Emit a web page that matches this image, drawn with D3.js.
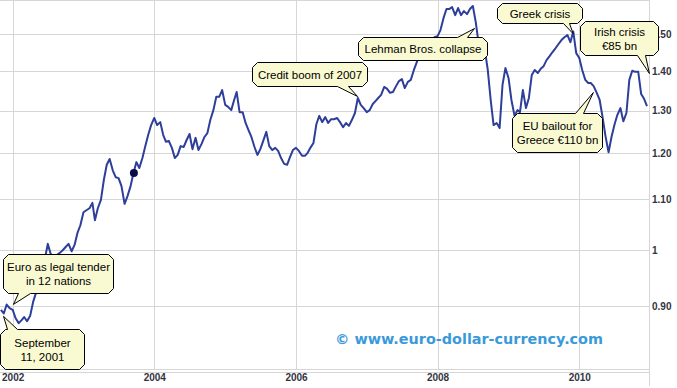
<!DOCTYPE html>
<html lang="en">
<head>
<meta charset="UTF-8">
<title>Euro - Dollar 2001-2010</title>
<script src="https://cdn.jsdelivr.net/npm/d3@7"></script>
<style>
    html, body { margin: 0; padding: 0; background: #fff; }
    svg { display: block; }
</style>
</head>
<body>
<script>
    // semi-monthly EUR/USD closes (1st and 16th of every month)
    const rates2001 = [0.894, 0.888, 0.903, 0.897];   // Nov - Dec
    const rates2002 = [0.894, 0.880, 0.872, 0.877, 0.882, 0.875, 0.884, 0.907, 0.923, 0.941, 0.961, 0.984,
                       1.012, 0.993, 0.989, 0.991, 0.995, 1.000, 1.006, 1.012, 0.998, 1.010, 1.033, 1.048];
    const rates2003 = [1.074, 1.078, 1.082, 1.093, 1.058, 1.082, 1.099, 1.141, 1.174, 1.187, 1.162, 1.147,
                       1.145, 1.128, 1.091, 1.107, 1.128, 1.156, 1.180, 1.167, 1.189, 1.216, 1.242, 1.265];
    const rates2004 = [1.282, 1.265, 1.272, 1.242, 1.226, 1.228, 1.212, 1.189, 1.196, 1.216, 1.214, 1.230,
                       1.244, 1.209, 1.235, 1.207, 1.221, 1.237, 1.246, 1.277, 1.301, 1.334, 1.334, 1.351];
    const rates2005 = [1.314, 1.309, 1.301, 1.326, 1.346, 1.296, 1.296, 1.270, 1.253, 1.237, 1.214, 1.196,
                       1.209, 1.228, 1.249, 1.216, 1.207, 1.212, 1.205, 1.189, 1.176, 1.174, 1.191, 1.207];
    const rates2006 = [1.212, 1.205, 1.194, 1.194, 1.200, 1.212, 1.223, 1.267, 1.287, 1.272, 1.284, 1.270,
                       1.279, 1.279, 1.282, 1.272, 1.260, 1.270, 1.263, 1.277, 1.294, 1.331, 1.314, 1.306];
    const rates2007 = [1.296, 1.301, 1.316, 1.324, 1.331, 1.339, 1.359, 1.354, 1.344, 1.346, 1.361, 1.374,
                       1.379, 1.356, 1.372, 1.377, 1.403, 1.424, 1.445, 1.456, 1.462, 1.473, 1.481, 1.492];
    const rates2008 = [1.495, 1.512, 1.547, 1.573, 1.573, 1.579, 1.555, 1.576, 1.555, 1.567, 1.558, 1.573,
                       1.582, 1.535, 1.470, 1.443, 1.456, 1.403, 1.326, 1.265, 1.270, 1.258, 1.364, 1.408];
    const rates2009 = [1.382, 1.326, 1.287, 1.301, 1.296, 1.351, 1.306, 1.331, 1.390, 1.403, 1.395, 1.406,
                       1.413, 1.429, 1.440, 1.451, 1.462, 1.473, 1.484, 1.492, 1.498, 1.478, 1.508, 1.448];
    const rates2010 = [1.435, 1.403, 1.377, 1.369, 1.369, 1.361, 1.344, 1.326, 1.284, 1.239, 1.202, 1.237,
                       1.265, 1.289, 1.306, 1.274, 1.294, 1.377, 1.401, 1.398, 1.398, 1.341, 1.329, 1.311];

    const years = [2001, 2002, 2003, 2004, 2005, 2006, 2007, 2008, 2009, 2010];
    const ratesByYear = [rates2001, rates2002, rates2003, rates2004, rates2005,
                         rates2006, rates2007, rates2008, rates2009, rates2010];

    const yearTicks = [2002, 2004, 2006, 2008, 2010];
    const rateTicks = [0.9, 1.0, 1.1, 1.2, 1.3, 1.4, 1.5];

    const marker = { date: "2003-09-18", value: 1.156 };

    const callouts = [
        { lines: ["September", "11, 2001"], tip: ["2001-11-12", 0.884],
          box: [0, 329, 84, 40], side: "top", base: [7, 17] },
        { lines: ["Euro as legal tender", "in 12 nations"], tip: ["2002-01-02", 0.904],
          box: [3, 254, 110, 39], side: "bottom", base: [15, 27] },
        { lines: ["Credit boom of 2007"], tip: ["2006-11-12", 1.336],
          box: [252, 62, 115, 24], side: "bottom", base: [85, 96] },
        { lines: ["Lehman Bros. collapse"], tip: ["2008-07-07", 1.518],
          box: [358, 37, 129, 23], side: "top", base: [99, 109] },
        { lines: ["Greek crisis"], tip: ["2009-11-28", 1.503],
          box: [497, 3, 85, 20], side: "bottom", base: [66, 72] },
        { lines: ["Irish crisis", "€85 bn"], tip: ["2010-12-26", 1.395],
          box: [580, 21, 78, 34], side: "bottom", base: [57, 65] },
        { lines: ["EU bailout for", "Greece €110 bn"], tip: ["2010-03-12", 1.346],
          box: [512, 113, 90, 39], side: "top", base: [63, 71] }
    ];

    const width = 677, height = 388;
    const plotRight = 649.5, plotBottom = 369.5;
    const parse = d3.timeParse("%Y-%m-%d");

    // flatten yearly arrays into dated points
    let data = [];
    years.forEach((yr, j) => {
        const startMonth = yr === 2001 ? 10 : 0;
        ratesByYear[j].forEach((v, i) => {
            data.push({ date: new Date(yr, startMonth + Math.floor(i / 2), i % 2 ? 16 : 1), value: v });
        });
    });

    let x = d3.scaleTime()
              .domain([new Date(2002, 0, 1), new Date(2010, 0, 1)])
              .range([12.7, 579.3]);
    let y = d3.scaleLog()
              .domain([0.8, 1.6])
              .range([369, 0]);

    let svg = d3.select("body").append("svg")
                .attr("width", width)
                .attr("height", height);

    svg.append("defs").append("clipPath").attr("id", "plot")
       .append("rect").attr("x", 0).attr("y", 0).attr("width", plotRight).attr("height", plotBottom);

    /* grid */
    let grid = svg.append("g").attr("stroke", "#d6d6d6").attr("stroke-width", 1).attr("shape-rendering", "crispEdges");
    grid.selectAll(".vx").data(yearTicks).enter().append("line")
        .attr("x1", d => Math.round(x(new Date(d, 0, 1))) + 0.5)
        .attr("x2", d => Math.round(x(new Date(d, 0, 1))) + 0.5)
        .attr("y1", 0).attr("y2", plotBottom);
    grid.selectAll(".hy").data(rateTicks).enter().append("line")
        .attr("x1", 0).attr("x2", plotRight)
        .attr("y1", d => Math.round(y(d)) + 0.5)
        .attr("y2", d => Math.round(y(d)) + 0.5);
    grid.append("line").attr("x1", 0).attr("x2", plotRight).attr("y1", 0.5).attr("y2", 0.5);
    grid.append("line").attr("x1", 0).attr("x2", plotRight).attr("y1", plotBottom).attr("y2", plotBottom);
    grid.append("line").attr("x1", 0).attr("x2", plotRight).attr("y1", plotBottom + 3).attr("y2", plotBottom + 3);
    grid.append("line").attr("x1", plotRight).attr("x2", plotRight).attr("y1", 0).attr("y2", 386);

    /* axes labels */
    svg.append("g").selectAll("text").data(yearTicks).enter().append("text")
       .attr("x", d => x(new Date(d, 0, 1)) + 0.5)
       .attr("y", 381)
       .attr("text-anchor", "middle")
       .attr("font-family", "Liberation Sans, Arial, sans-serif")
       .attr("font-weight", "bold")
       .attr("font-size", 10)
       .attr("fill", "#333340")
       .text(d => d);

    svg.append("g").selectAll("text").data(rateTicks).enter().append("text")
       .attr("x", 652)
       .attr("y", d => y(d))
       .attr("dy", "0.35em")
       .attr("font-family", "Liberation Sans, Arial, sans-serif")
       .attr("font-weight", "bold")
       .attr("font-size", 10)
       .attr("fill", "#333340")
       .text(d => d === 1 ? "1" : d.toFixed(2));

    /* watermark */
    svg.append("text")
       .attr("x", 335).attr("y", 344)
       .attr("font-family", "DejaVu Sans, Verdana, sans-serif")
       .attr("font-weight", "bold")
       .attr("font-size", 14)
       .attr("fill", "#3a9ad9")
       .attr("textLength", 268)
       .attr("lengthAdjust", "spacingAndGlyphs")
       .text("© www.euro-dollar-currency.com");

    /* rate line */
    let line = d3.line()
                 .x(d => x(d.date))
                 .y(d => y(d.value));
    svg.append("path")
       .datum(data)
       .attr("clip-path", "url(#plot)")
       .attr("fill", "none")
       .attr("stroke", "#2d3e9b")
       .attr("stroke-width", 2)
       .attr("stroke-linejoin", "round")
       .attr("d", line);

    svg.append("circle")
       .attr("cx", x(parse(marker.date)))
       .attr("cy", y(marker.value))
       .attr("r", 4)
       .attr("fill", "#0b0b4a");

    /* callouts: bevelled box with a pointer */
    function calloutPath(c) {
        const [bx, by, w, h] = c.box, k = 5;
        const tx = x(parse(c.tip[0])) - bx, ty = y(c.tip[1]) - by;
        const [a, b] = c.base;
        let p = `M${k},0`;
        if (c.side === "top") p += `L${a},0L${tx},${ty}L${b},0`;
        p += `L${w - k},0L${w},${k}L${w},${h - k}L${w - k},${h}`;
        if (c.side === "bottom") p += `L${b},${h}L${tx},${ty}L${a},${h}`;
        p += `L${k},${h}L0,${h - k}L0,${k}Z`;
        return p;
    }

    let co = svg.append("g").selectAll("g").data(callouts).enter().append("g")
                .attr("transform", d => `translate(${d.box[0] + 0.5}, ${d.box[1] + 0.5})`);
    co.append("path")
      .attr("d", calloutPath)
      .attr("fill", "#fafad2")
      .attr("stroke", "#000")
      .attr("stroke-width", 1);
    co.each(function (d) {
        const n = d.lines.length, h = d.box[3];
        const g = d3.select(this);
        d.lines.forEach((t, i) => {
            g.append("text")
             .attr("x", d.box[2] / 2)
             .attr("y", h / 2 + (i - (n - 1) / 2) * 14 + 4)
             .attr("text-anchor", "middle")
             .attr("font-family", "Liberation Sans, Arial, sans-serif")
             .attr("font-size", 11.5)
             .attr("fill", "#000")
             .text(t);
        });
    });
</script>
</body>
</html>
